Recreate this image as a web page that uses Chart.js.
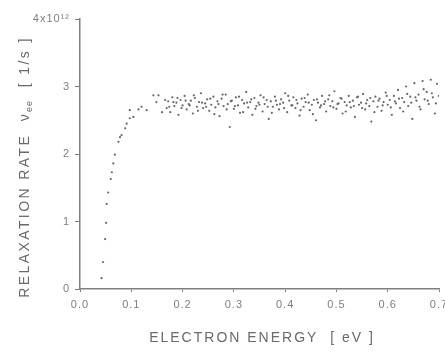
<!DOCTYPE html>
<html>
<head>
<meta charset="utf-8">
<script src="https://cdn.jsdelivr.net/npm/chart.js@4"></script>
<style>
  html, body { margin: 0; padding: 0; background: #fff; }
  #wrap { width: 445px; height: 353px; position: relative; }
</style>
</head>
<body>
<div id="wrap"><canvas id="myChart" width="445" height="353"></canvas></div>
<script>
// rising part of the curve
const riseEnergy = [0.042, 0.045, 0.049, 0.051, 0.052, 0.055, 0.060, 0.062, 0.065, 0.068, 0.075, 0.078, 0.081, 0.088, 0.091, 0.097, 0.097, 0.104, 0.114, 0.120, 0.130, 0.143, 0.149, 0.153, 0.160, 0.166, 0.169];
const riseRate   = [0.16, 0.40, 0.74, 0.98, 1.26, 1.43, 1.63, 1.73, 1.86, 1.99, 2.18, 2.25, 2.28, 2.38, 2.45, 2.53, 2.65, 2.55, 2.66, 2.70, 2.65, 2.87, 2.77, 2.87, 2.62, 2.80, 2.68];

// plateau (scattered)
const flatEnergy = [0.172, 0.176, 0.180, 0.184, 0.188, 0.192, 0.196, 0.200, 0.204, 0.208,
  0.212, 0.216, 0.220, 0.224, 0.228, 0.232, 0.236, 0.240, 0.244, 0.248,
  0.252, 0.256, 0.260, 0.264, 0.268, 0.272, 0.276, 0.280, 0.284, 0.288,
  0.292, 0.296, 0.300, 0.304, 0.308, 0.312, 0.316, 0.320, 0.324, 0.328,
  0.332, 0.336, 0.340, 0.344, 0.348, 0.352, 0.356, 0.360, 0.364, 0.368,
  0.372, 0.376, 0.380, 0.384, 0.388, 0.392, 0.396, 0.400, 0.404, 0.408,
  0.412, 0.416, 0.420, 0.424, 0.428, 0.432, 0.436, 0.440, 0.444, 0.448,
  0.452, 0.456, 0.460, 0.464, 0.468, 0.472, 0.476, 0.480, 0.484, 0.488,
  0.492, 0.496, 0.500, 0.504, 0.508, 0.512, 0.516, 0.520, 0.524, 0.528,
  0.532, 0.536, 0.540, 0.544, 0.548, 0.552, 0.556, 0.560, 0.564, 0.568,
  0.572, 0.576, 0.580, 0.584, 0.588, 0.592, 0.596, 0.600, 0.604, 0.608,
  0.612, 0.616, 0.620, 0.624, 0.628, 0.632, 0.636, 0.640, 0.644, 0.648,
  0.652, 0.656, 0.660, 0.664, 0.668, 0.672, 0.676, 0.680, 0.684, 0.688,
  0.692, 0.696, 0.700];
const flatRate = [2.78, 2.62, 2.84, 2.71, 2.76, 2.58, 2.80, 2.72, 2.86, 2.66,
  2.74, 2.79, 2.60, 2.83, 2.70, 2.77, 2.90, 2.68, 2.75, 2.81,
  2.64, 2.73, 2.85, 2.69, 2.78, 2.56, 2.82, 2.71, 2.88, 2.74,
  2.40, 2.79, 2.67, 2.84, 2.72, 2.61, 2.80, 2.75, 2.92, 2.69,
  2.77, 2.58, 2.83, 2.71, 2.76, 2.87, 2.63, 2.74, 2.80, 2.52,
  2.78, 2.70, 2.85, 2.73, 2.66, 2.81, 2.76, 2.90, 2.62, 2.79,
  2.72, 2.84, 2.68, 2.75, 2.57, 2.82, 2.70, 2.77, 2.88, 2.65,
  2.73, 2.80, 2.50, 2.76, 2.69, 2.86, 2.74, 2.63, 2.81, 2.71,
  2.78, 2.93, 2.67, 2.75, 2.83, 2.60, 2.77, 2.72, 2.86, 2.69,
  2.79, 2.55, 2.84, 2.73, 2.76, 2.89, 2.66, 2.80, 2.71, 2.48,
  2.78, 2.85, 2.70, 2.82, 2.64, 2.77, 2.91, 2.73, 2.80, 2.58,
  2.86, 2.75, 2.95, 2.68, 2.83, 2.77, 3.00, 2.71, 2.85, 2.52,
  3.05, 2.79, 2.88, 2.66, 3.08, 2.81, 2.92, 2.74, 3.10, 2.84,
  2.60, 3.04, 2.86];

// second pass of plateau points
const extraEnergy = [0.174, 0.182, 0.190, 0.198, 0.206, 0.214, 0.222, 0.230, 0.238, 0.246,
  0.254, 0.262, 0.270, 0.278, 0.286, 0.294, 0.302, 0.310, 0.318, 0.326,
  0.334, 0.342, 0.350, 0.358, 0.366, 0.374, 0.382, 0.390, 0.398, 0.406,
  0.414, 0.422, 0.430, 0.438, 0.446, 0.454, 0.462, 0.470, 0.478, 0.486,
  0.494, 0.502, 0.510, 0.518, 0.526, 0.534, 0.542, 0.550, 0.558, 0.566,
  0.574, 0.582, 0.590, 0.598, 0.606, 0.614, 0.622, 0.630, 0.638, 0.646,
  0.654, 0.662, 0.670, 0.678, 0.686, 0.694];
const extraRate = [2.70, 2.77, 2.83, 2.68, 2.79, 2.72, 2.87, 2.64, 2.76, 2.70,
  2.82, 2.59, 2.74, 2.88, 2.66, 2.78, 2.71, 2.85, 2.62, 2.76,
  2.81, 2.67, 2.73, 2.84, 2.70, 2.61, 2.79, 2.74, 2.68, 2.86,
  2.72, 2.80, 2.65, 2.83, 2.76, 2.59, 2.81, 2.72, 2.78, 2.87,
  2.69, 2.74, 2.82, 2.63, 2.77, 2.71, 2.85, 2.68, 2.75, 2.83,
  2.62, 2.79, 2.72, 2.86, 2.69, 2.78, 2.82, 2.63, 2.89, 2.76,
  2.84, 2.70, 2.96, 2.79, 2.90, 2.75];

const xTicks = [0.0, 0.1, 0.2, 0.3, 0.4, 0.5, 0.6, 0.7];
const yTicks = [0, 1, 2, 3, 4];
const yTickLabels = ['0', '1', '2', '3', '4x10\u00B9\u00B2'];
const xTitle = 'ELECTRON ENERGY  [ eV ]';
const yTitle = 'RELAXATION RATE  \u03BD';
const yTitleSub = 'ee';
const yTitleEnd = '  [ 1/s ]';

function toPoints(xs, ys) {
  let pts = [];
  for (let i = 0; i < xs.length; i++) {
    pts.push({x: xs[i], y: ys[i]});
  }
  return pts;
}

let allPoints = toPoints(riseEnergy, riseRate)
  .concat(toPoints(flatEnergy, flatRate))
  .concat(toPoints(extraEnergy, extraRate));

const grey = '#7f7f7f';
const tickFont = {family: 'Liberation Sans', size: 11};

// wider letters for tick labels, like the scanned figure
const spacingPlugin = {
  id: 'spacing',
  beforeDraw(chart) { chart.ctx.letterSpacing = '1px'; }
};

// draws the axis titles (with the subscript on nu)
const titlePlugin = {
  id: 'titles',
  afterDraw(chart) {
    const ctx = chart.ctx;
    ctx.save();
    ctx.fillStyle = '#6a6a6a';
    ctx.font = '14px "Liberation Sans"';
    ctx.letterSpacing = '2px';
    ctx.textAlign = 'center';
    ctx.textBaseline = 'middle';
    ctx.fillText(xTitle, 262, 338);

    // y title, rotated
    ctx.letterSpacing = '2.4px';
    ctx.translate(25, 167);
    ctx.rotate(-Math.PI / 2);
    ctx.textAlign = 'left';
    const w1 = ctx.measureText(yTitle).width;
    ctx.font = '9px "Liberation Sans"';
    ctx.letterSpacing = '1px';
    const w2 = ctx.measureText(yTitleSub).width;
    ctx.font = '14px "Liberation Sans"';
    ctx.letterSpacing = '2.4px';
    const w3 = ctx.measureText(yTitleEnd).width;
    let x0 = -(w1 + w2 + w3) / 2;
    ctx.fillText(yTitle, x0, 0);
    ctx.font = '9px "Liberation Sans"';
    ctx.letterSpacing = '1px';
    ctx.fillText(yTitleSub, x0 + w1, 5);
    ctx.font = '14px "Liberation Sans"';
    ctx.letterSpacing = '2.4px';
    ctx.fillText(yTitleEnd, x0 + w1 + w2, 0);
    ctx.restore();
  }
};

var ctx = document.getElementById('myChart');
var chart = new Chart(ctx, {
  type: 'scatter',
  data: {
    datasets: [{
      data: allPoints,
      pointRadius: 1.1,
      pointHoverRadius: 1.1,
      pointBorderWidth: 0,
      backgroundColor: '#666666',
      borderColor: '#666666'
    }]
  },
  plugins: [spacingPlugin, titlePlugin],
  options: {
    responsive: false,
    animation: false,
    layout: {padding: {top: 19, right: 6, left: 0, bottom: 0}},
    plugins: {legend: {display: false}, tooltip: {enabled: false}},
    scales: {
      x: {
        type: 'linear',
        min: 0,
        max: 0.7,
        afterBuildTicks(scale) { scale.ticks = xTicks.map(v => ({value: v})); },
        afterFit(scale) {
          scale.height = 64;
          scale.paddingLeft = 0;
          scale.paddingRight = 0;
        },
        grid: {drawOnChartArea: false, tickLength: 3, color: grey},
        border: {color: grey, width: 1.5},
        ticks: {
          color: grey,
          font: tickFont,
          padding: 6,
          maxRotation: 0,
          callback: v => v.toFixed(1)
        }
      },
      y: {
        type: 'linear',
        min: 0,
        max: 4,
        afterBuildTicks(scale) { scale.ticks = yTicks.map(v => ({value: v})); },
        afterFit(scale) {
          scale.width = 80;
          scale.paddingTop = 0;
        },
        grid: {drawOnChartArea: false, tickLength: 5, color: grey},
        border: {color: grey, width: 1.5},
        ticks: {
          color: grey,
          font: tickFont,
          padding: 5,
          callback: v => yTickLabels[yTicks.indexOf(v)]
        }
      }
    }
  }
});
</script>
</body>
</html>
